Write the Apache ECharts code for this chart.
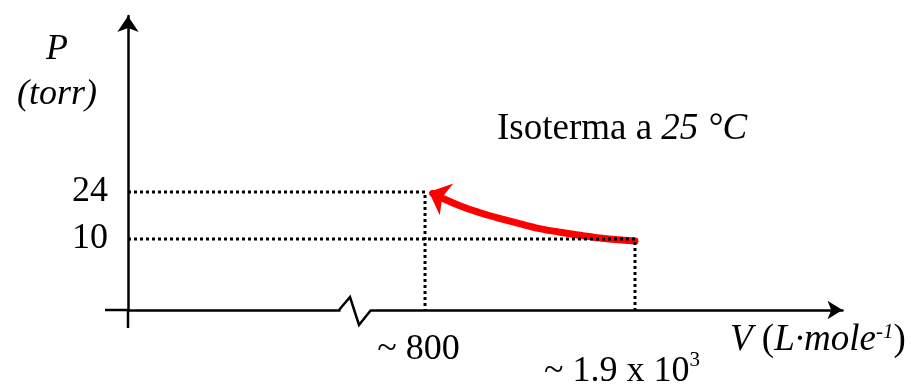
<!DOCTYPE html>
<html><head><meta charset="utf-8">
<script src="https://cdn.jsdelivr.net/npm/echarts@6/dist/echarts.min.js"></script>
<style>html,body{margin:0;padding:0;background:#fff}#c{width:913px;height:384px}</style>
</head><body><div id="c"></div>
<script>
// ---- data ----
const isoV = [840, 900, 1000, 1100, 1200, 1300, 1400, 1500, 1600, 1700, 1800, 1900];
const isoP = [23.6, 21.9, 19.5, 17.6, 16.0, 14.5, 13.1, 12.1, 11.2, 10.4, 9.85, 9.4];
const startV = 800, startP = 24;   // arrow end of the isotherm
const endV = 1900, endP = 10;      // start of the isotherm
const yTickValues = [10, 24];
const yTickLabels = ['10', '24'];
const xTickValues = [800, 1900];
const xTickText = ['~ 800', '~ 1.9 x 10'];
const xTickSup = ['', '3'];
const yNameLines = ['P', '(torr)'];
const xNameMain = 'V', xNameUnit = 'L·mole', xNameSup = '-1';
const noteUpright = 'Isoterma a ', noteItalic = '25 °C';

// ---- axis extents (schematic, broken x axis) ----
const X_MIN = -756, X_MAX = 2987;
const Y_MIN = -11.15, Y_MAX = 76.42;
const FF = '"Liberation Serif", "Times New Roman", serif';

const chart = echarts.init(document.getElementById('c'), null, {renderer: 'canvas'});
const option = {
  animation: false,
  backgroundColor: '#fff',
  grid: {left: 128, right: 70.5, top: 16, bottom: 74, containLabel: false, outerBoundsMode: 'none'},
  xAxis: {
    type: 'value', min: X_MIN, max: X_MAX,
    splitLine: {show: false}, axisTick: {show: false},
    axisLine: {onZero: false, lineStyle: {color: '#000', width: 2.5},
      symbol: ['none', 'arrow'], symbolSize: [14, 15]},
    axisLabel: {
      customValues: xTickValues, margin: 22, color: '#000',
      formatter: function (v) {
        const i = xTickValues.indexOf(v);
        if (i < 0) return '';
        return xTickSup[i] ? '{g| }\n{b|' + xTickText[i] + '}{s|' + xTickSup[i] + '}' : '{a|' + xTickText[i] + '}';
      },
      rich: {
        g: {fontSize: 10, lineHeight: 18},
        a: {fontFamily: FF, fontSize: 36, lineHeight: 36, color: '#000', padding: [0, 13, 0, 0]},
        b: {fontFamily: FF, fontSize: 36, lineHeight: 44, color: '#000'},
        s: {fontFamily: FF, fontSize: 21, color: '#000', verticalAlign: 'top', padding: [0, 26, 0, 0]}
      }
    }
  },
  yAxis: {
    type: 'value', min: Y_MIN, max: Y_MAX,
    splitLine: {show: false}, axisTick: {show: false},
    axisLine: {onZero: false, lineStyle: {color: '#000', width: 2.5},
      symbol: ['none', 'arrow'], symbolSize: [16, 16]},
    axisLabel: {
      customValues: yTickValues, margin: 20, color: '#000',
      fontFamily: FF, fontSize: 36, padding: [6, 0, 0, 0],
      formatter: function (v) { const i = yTickValues.indexOf(v); return i < 0 ? '' : yTickLabels[i]; }
    }
  },
  series: [
    {
      name: 'isoterma', type: 'line', smooth: 0.3, showSymbol: false, z: 3,
      lineStyle: {color: '#ff0000', width: 7, cap: 'round'},
      data: isoV.map((v, i) => [v, isoP[i]])
    },
    {
      name: 'arrow', type: 'scatter', z: 4,
      symbol: 'arrow', symbolSize: [26, 19], symbolRotate: 67, symbolOffset: [4, 0],
      itemStyle: {color: '#ff0000', opacity: 1},
      data: [[startV, startP]]
    },
    {
      name: 'guide24', type: 'line', showSymbol: false, z: 5,
      lineStyle: {color: '#000', width: 3, type: [3, 3]},
      data: [[X_MIN, startP], [startV, startP], [startV, Y_MIN]]
    },
    {
      name: 'guide10', type: 'line', showSymbol: false, z: 5,
      lineStyle: {color: '#000', width: 3, type: [3, 3]},
      data: [[X_MIN, endP], [endV, endP], [endV, Y_MIN]]
    }
  ],
  graphic: [
    {type: 'line', z: 100, shape: {x1: 105, y1: 310, x2: 128, y2: 310}, style: {stroke: '#000', lineWidth: 2.5}},
    {type: 'line', z: 100, shape: {x1: 128, y1: 310, x2: 128, y2: 328}, style: {stroke: '#000', lineWidth: 2.5}},
    {type: 'rect', z: 100, shape: {x: 340.5, y: 305, width: 30, height: 11}, style: {fill: '#fff'}},
    {type: 'polyline', z: 101, shape: {points: [[339, 310], [350, 297], [359, 325], [371, 310]]},
      style: {stroke: '#000', lineWidth: 2.5, fill: null}},
    {type: 'text', z: 100, x: 57, y: 27, style: {
      text: '{i|' + yNameLines[0] + '}\n{i|' + yNameLines[1] + '}',
      align: 'center', verticalAlign: 'top', textAlign: 'center', textVerticalAlign: 'top',
      rich: {i: {fontFamily: FF, fontStyle: 'italic', fontSize: 36, lineHeight: 45, fill: '#000', align: 'center'}}
    }},
    {type: 'text', z: 100, x: 497, y: 111, style: {
      text: '{u|' + noteUpright + '}{i|' + noteItalic + '}',
      align: 'left', verticalAlign: 'top', textAlign: 'left', textVerticalAlign: 'top',
      rich: {
        u: {fontFamily: FF, fontSize: 37, lineHeight: 36, fill: '#000'},
        i: {fontFamily: FF, fontStyle: 'italic', fontSize: 37, lineHeight: 36, fill: '#000'}
      }
    }},
    {type: 'text', z: 100, x: 730, y: 322, style: {
      text: '{i|' + xNameMain + '}{u| (}{i|' + xNameUnit + '}{s|' + xNameSup + '}{u|)}',
      align: 'left', verticalAlign: 'top', textAlign: 'left', textVerticalAlign: 'top',
      rich: {
        u: {fontFamily: FF, fontSize: 37, lineHeight: 36, fill: '#000'},
        i: {fontFamily: FF, fontStyle: 'italic', fontSize: 37, lineHeight: 36, fill: '#000'},
        s: {fontFamily: FF, fontStyle: 'italic', fontSize: 21, lineHeight: 16, fill: '#000', verticalAlign: 'top'}
      }
    }}
  ]
};
chart.setOption(option);
</script>
</body></html>
